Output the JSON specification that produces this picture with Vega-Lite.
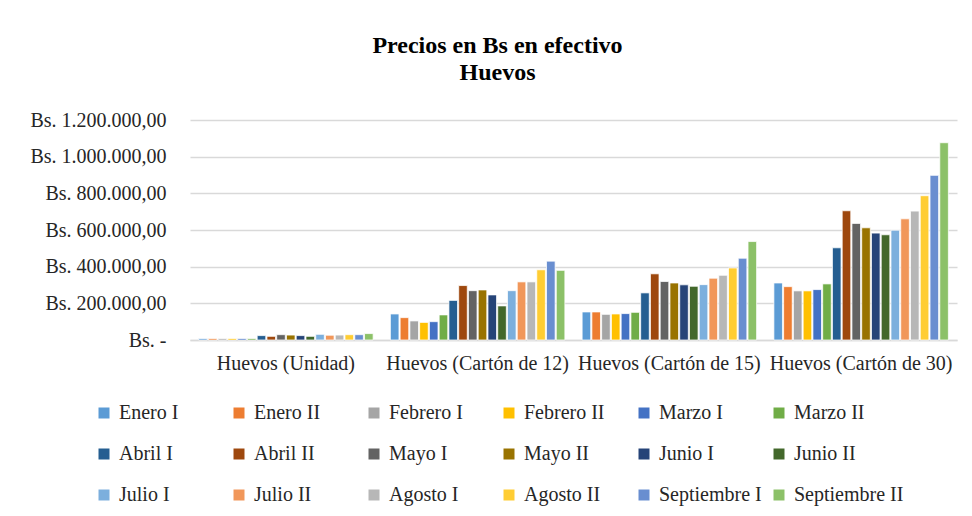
{
  "$schema": "https://vega.github.io/schema/vega-lite/v6.json",
  "autosize": {"type": "none"},
  "width": 767,
  "height": 220,
  "padding": {"left": 190, "top": 120, "right": 15, "bottom": 176},
  "background": "white",
  "title": {
    "text": ["Precios en Bs en efectivo", "Huevos"],
    "font": "Liberation Serif",
    "fontSize": 24,
    "fontWeight": "bold",
    "color": "#000000",
    "anchor": "middle",
    "dx": -76,
    "offset": 25,
    "lineHeight": 27
  },
  "config": {
    "font": "Liberation Serif",
    "locale": {"number": {"decimal": ",", "thousands": ".", "grouping": [3], "currency": ["Bs. ", ""]}},
    "view": {"stroke": null},
    "axis": {"labelFont": "Liberation Serif", "labelFontSize": 20, "labelColor": "#262626"},
    "legend": {"labelFont": "Liberation Serif", "labelFontSize": 20, "labelColor": "#262626"}
  },
  "data": {"values": [
    {"producto": "Huevos (Unidad)", "serie": "Enero I", "precio": 8000},
    {"producto": "Huevos (Unidad)", "serie": "Enero II", "precio": 8000},
    {"producto": "Huevos (Unidad)", "serie": "Febrero I", "precio": 8000},
    {"producto": "Huevos (Unidad)", "serie": "Febrero II", "precio": 8000},
    {"producto": "Huevos (Unidad)", "serie": "Marzo I", "precio": 8000},
    {"producto": "Huevos (Unidad)", "serie": "Marzo II", "precio": 8000},
    {"producto": "Huevos (Unidad)", "serie": "Abril I", "precio": 24000},
    {"producto": "Huevos (Unidad)", "serie": "Abril II", "precio": 20000},
    {"producto": "Huevos (Unidad)", "serie": "Mayo I", "precio": 29000},
    {"producto": "Huevos (Unidad)", "serie": "Mayo II", "precio": 27000},
    {"producto": "Huevos (Unidad)", "serie": "Junio I", "precio": 24000},
    {"producto": "Huevos (Unidad)", "serie": "Junio II", "precio": 20000},
    {"producto": "Huevos (Unidad)", "serie": "Julio I", "precio": 31000},
    {"producto": "Huevos (Unidad)", "serie": "Julio II", "precio": 26000},
    {"producto": "Huevos (Unidad)", "serie": "Agosto I", "precio": 27000},
    {"producto": "Huevos (Unidad)", "serie": "Agosto II", "precio": 29000},
    {"producto": "Huevos (Unidad)", "serie": "Septiembre I", "precio": 29000},
    {"producto": "Huevos (Unidad)", "serie": "Septiembre II", "precio": 35000},
    {"producto": "Huevos (Cartón de 12)", "serie": "Enero I", "precio": 142000},
    {"producto": "Huevos (Cartón de 12)", "serie": "Enero II", "precio": 122000},
    {"producto": "Huevos (Cartón de 12)", "serie": "Febrero I", "precio": 104000},
    {"producto": "Huevos (Cartón de 12)", "serie": "Febrero II", "precio": 96000},
    {"producto": "Huevos (Cartón de 12)", "serie": "Marzo I", "precio": 100000},
    {"producto": "Huevos (Cartón de 12)", "serie": "Marzo II", "precio": 137000},
    {"producto": "Huevos (Cartón de 12)", "serie": "Abril I", "precio": 216000},
    {"producto": "Huevos (Cartón de 12)", "serie": "Abril II", "precio": 297000},
    {"producto": "Huevos (Cartón de 12)", "serie": "Mayo I", "precio": 269000},
    {"producto": "Huevos (Cartón de 12)", "serie": "Mayo II", "precio": 273000},
    {"producto": "Huevos (Cartón de 12)", "serie": "Junio I", "precio": 246000},
    {"producto": "Huevos (Cartón de 12)", "serie": "Junio II", "precio": 186000},
    {"producto": "Huevos (Cartón de 12)", "serie": "Julio I", "precio": 269000},
    {"producto": "Huevos (Cartón de 12)", "serie": "Julio II", "precio": 317000},
    {"producto": "Huevos (Cartón de 12)", "serie": "Agosto I", "precio": 317000},
    {"producto": "Huevos (Cartón de 12)", "serie": "Agosto II", "precio": 383000},
    {"producto": "Huevos (Cartón de 12)", "serie": "Septiembre I", "precio": 430000},
    {"producto": "Huevos (Cartón de 12)", "serie": "Septiembre II", "precio": 380000},
    {"producto": "Huevos (Cartón de 15)", "serie": "Enero I", "precio": 153000},
    {"producto": "Huevos (Cartón de 15)", "serie": "Enero II", "precio": 153000},
    {"producto": "Huevos (Cartón de 15)", "serie": "Febrero I", "precio": 140000},
    {"producto": "Huevos (Cartón de 15)", "serie": "Febrero II", "precio": 142000},
    {"producto": "Huevos (Cartón de 15)", "serie": "Marzo I", "precio": 144000},
    {"producto": "Huevos (Cartón de 15)", "serie": "Marzo II", "precio": 151000},
    {"producto": "Huevos (Cartón de 15)", "serie": "Abril I", "precio": 257000},
    {"producto": "Huevos (Cartón de 15)", "serie": "Abril II", "precio": 361000},
    {"producto": "Huevos (Cartón de 15)", "serie": "Mayo I", "precio": 319000},
    {"producto": "Huevos (Cartón de 15)", "serie": "Mayo II", "precio": 311000},
    {"producto": "Huevos (Cartón de 15)", "serie": "Junio I", "precio": 301000},
    {"producto": "Huevos (Cartón de 15)", "serie": "Junio II", "precio": 293000},
    {"producto": "Huevos (Cartón de 15)", "serie": "Julio I", "precio": 302000},
    {"producto": "Huevos (Cartón de 15)", "serie": "Julio II", "precio": 337000},
    {"producto": "Huevos (Cartón de 15)", "serie": "Agosto I", "precio": 353000},
    {"producto": "Huevos (Cartón de 15)", "serie": "Agosto II", "precio": 393000},
    {"producto": "Huevos (Cartón de 15)", "serie": "Septiembre I", "precio": 446000},
    {"producto": "Huevos (Cartón de 15)", "serie": "Septiembre II", "precio": 537000},
    {"producto": "Huevos (Cartón de 30)", "serie": "Enero I", "precio": 311000},
    {"producto": "Huevos (Cartón de 30)", "serie": "Enero II", "precio": 291000},
    {"producto": "Huevos (Cartón de 30)", "serie": "Febrero I", "precio": 268000},
    {"producto": "Huevos (Cartón de 30)", "serie": "Febrero II", "precio": 268000},
    {"producto": "Huevos (Cartón de 30)", "serie": "Marzo I", "precio": 275000},
    {"producto": "Huevos (Cartón de 30)", "serie": "Marzo II", "precio": 306000},
    {"producto": "Huevos (Cartón de 30)", "serie": "Abril I", "precio": 503000},
    {"producto": "Huevos (Cartón de 30)", "serie": "Abril II", "precio": 705000},
    {"producto": "Huevos (Cartón de 30)", "serie": "Mayo I", "precio": 636000},
    {"producto": "Huevos (Cartón de 30)", "serie": "Mayo II", "precio": 612000},
    {"producto": "Huevos (Cartón de 30)", "serie": "Junio I", "precio": 583000},
    {"producto": "Huevos (Cartón de 30)", "serie": "Junio II", "precio": 574000},
    {"producto": "Huevos (Cartón de 30)", "serie": "Julio I", "precio": 599000},
    {"producto": "Huevos (Cartón de 30)", "serie": "Julio II", "precio": 661000},
    {"producto": "Huevos (Cartón de 30)", "serie": "Agosto I", "precio": 703000},
    {"producto": "Huevos (Cartón de 30)", "serie": "Agosto II", "precio": 787000},
    {"producto": "Huevos (Cartón de 30)", "serie": "Septiembre I", "precio": 898000},
    {"producto": "Huevos (Cartón de 30)", "serie": "Septiembre II", "precio": 1076000}
  ]},
  "mark": {"type": "bar", "stroke": "white", "strokeWidth": 0.75},
  "encoding": {
    "x": {
      "field": "producto",
      "type": "nominal",
      "sort": ["Huevos (Unidad)", "Huevos (Cartón de 12)", "Huevos (Cartón de 15)", "Huevos (Cartón de 30)"],
      "scale": {"paddingInner": 0.09, "paddingOuter": 0.045},
      "axis": {
        "title": null,
        "labelAngle": 0,
        "ticks": false,
        "labelPadding": 13,
        "labelLimit": 0,
        "labelOverlap": false,
        "labelFont": "Liberation Serif",
        "domainColor": "#D9D9D9",
        "domainWidth": 1.5,
        "grid": false
      }
    },
    "xOffset": {
      "field": "serie",
      "type": "nominal",
      "sort": ["Enero I", "Enero II", "Febrero I", "Febrero II", "Marzo I", "Marzo II", "Abril I", "Abril II", "Mayo I", "Mayo II", "Junio I", "Junio II", "Julio I", "Julio II", "Agosto I", "Agosto II", "Septiembre I", "Septiembre II"],
      "scale": {"paddingInner": 0.12}
    },
    "y": {
      "field": "precio",
      "type": "quantitative",
      "scale": {"domain": [0, 1200000], "nice": false},
      "axis": {
        "title": null,
        "values": [0, 200000, 400000, 600000, 800000, 1000000, 1200000],
        "format": ",.2f",
        "labelExpr": "datum.value == 0 ? 'Bs. -' : 'Bs. ' + datum.label",
        "labelFont": "Liberation Serif",
        "domain": false,
        "ticks": false,
        "labelPadding": 24,
        "gridColor": "#D9D9D9",
        "gridWidth": 1.5
      }
    },
    "color": {
      "field": "serie",
      "type": "nominal",
      "scale": {
        "domain": ["Enero I", "Enero II", "Febrero I", "Febrero II", "Marzo I", "Marzo II", "Abril I", "Abril II", "Mayo I", "Mayo II", "Junio I", "Junio II", "Julio I", "Julio II", "Agosto I", "Agosto II", "Septiembre I", "Septiembre II"],
        "range": ["#5B9BD5", "#ED7D31", "#A5A5A5", "#FFC000", "#4472C4", "#70AD47", "#255E91", "#9E480E", "#636363", "#997300", "#264478", "#43682B", "#7CAFDD", "#F1975A", "#B7B7B7", "#FFCD33", "#698ED0", "#8CC168"]
      },
      "legend": {
        "title": null,
        "orient": "none",
        "legendX": -96,
        "legendY": 283,
        "direction": "horizontal",
        "columns": 6,
        "gridAlign": "all",
        "symbolType": "square",
        "symbolSize": 121,
        "symbolStrokeWidth": 0,
        "labelOffset": 5,
        "labelFont": "Liberation Serif",
        "labelFontSize": 20,
        "columnPadding": 0,
        "rowPadding": 21,
        "labelLimit": 200
      }
    }
  }
}
